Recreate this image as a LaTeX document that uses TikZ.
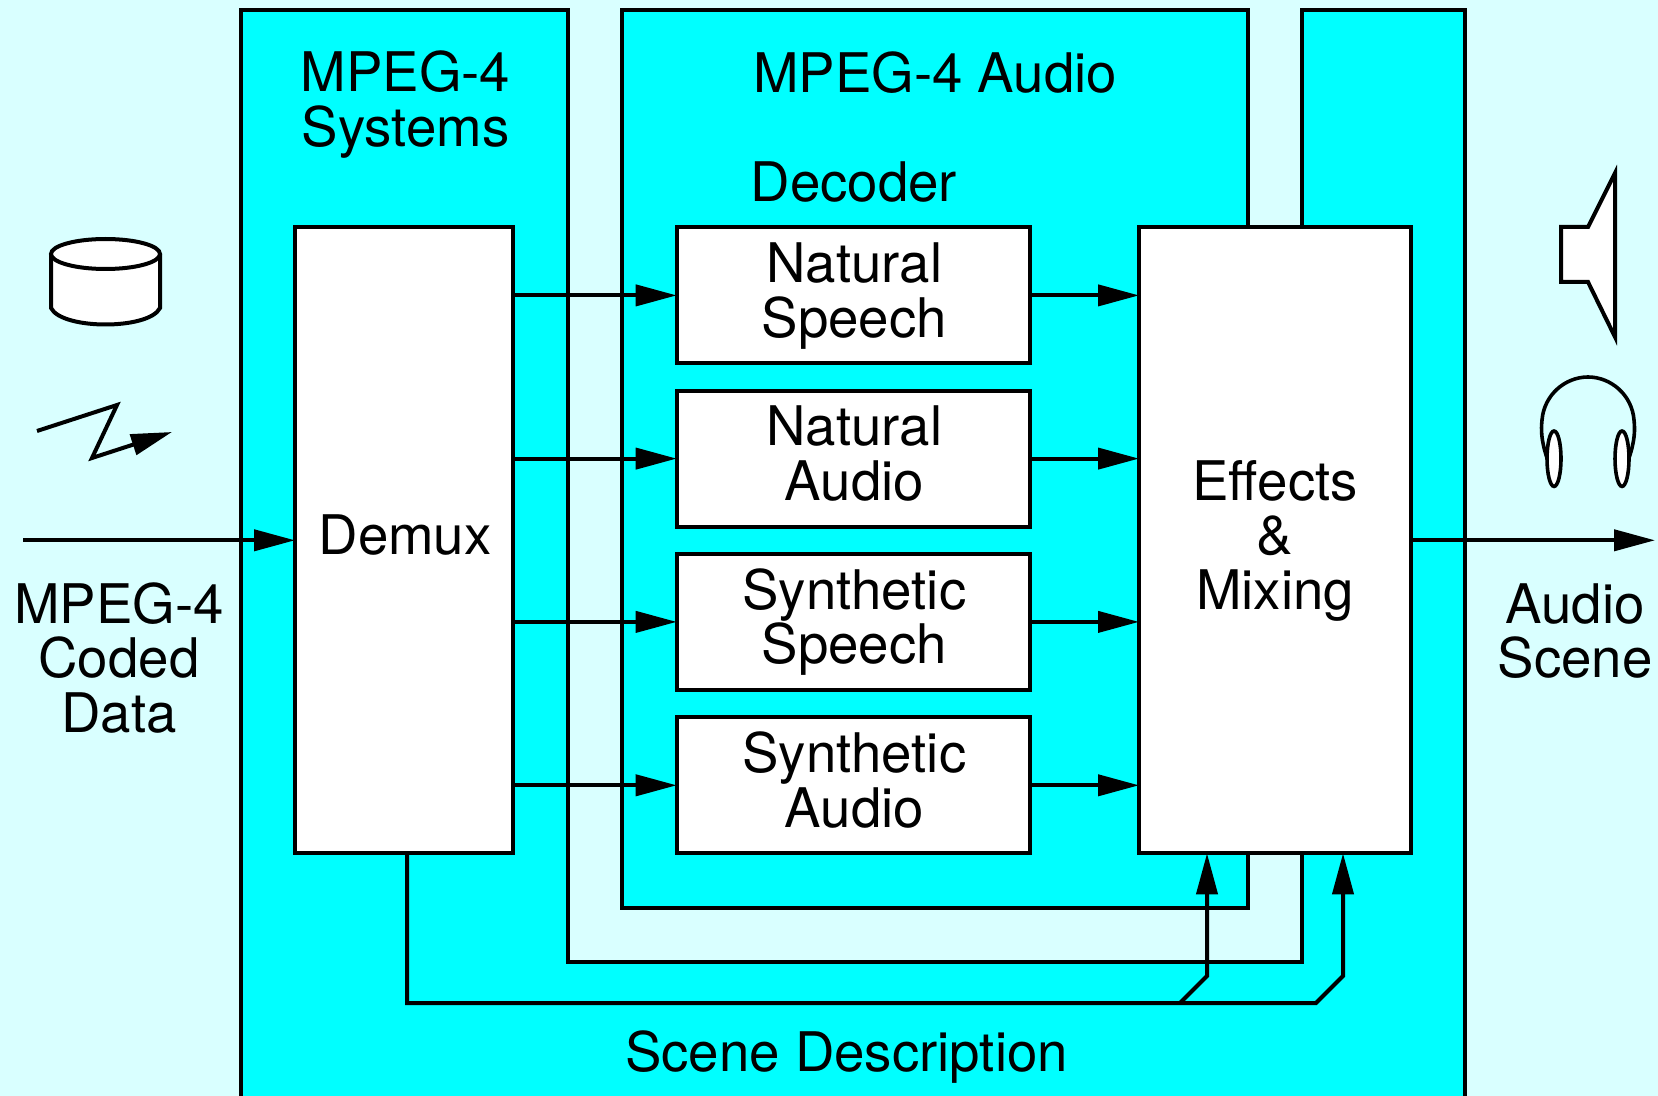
\documentclass[tikz,border=0pt]{standalone}
\usepackage{fontspec}
\setmainfont{TeX Gyre Heros}
\usetikzlibrary{arrows.meta}
\definecolor{paleC}{HTML}{D9FFFF}
\definecolor{fullC}{HTML}{00FFFF}
\newcommand\hh[1]{\rule{1pt}{0pt}\rule{0pt}{#1}}
\newcommand\dd[1]{\rule{1pt}{0pt}\rule[-#1]{0pt}{#1}}
\tikzset{
  every node/.style={font=\fontsize{27.3}{27.25}\selectfont, align=center, inner sep=0pt, outer sep=0pt},
  ln/.style={line width=2pt, draw=black, miter limit=10},
  arr/.style={ln, -{Triangle[length=20.5pt,width=10.5pt]}},
  box/.style={ln, fill=white, minimum width=176.7pt, minimum height=68.1pt},
  icon/.style={ln, fill=white},
  thinicon/.style={line width=1.8pt, draw=black},
}
\begin{document}
\begin{tikzpicture}[x=0.5pt,y=-0.5pt]
\useasboundingbox (0,0) rectangle (1658,1096);
\fill[paleC] (0,0) rectangle (1658,1096);
% Systems panel
\fill[fullC] (241,1096) -- (241,10) -- (568,10) -- (568,962) -- (1302,962) -- (1302,10) -- (1465,10) -- (1465,1096) -- cycle;
\draw[ln] (241,1096) -- (241,10) -- (568,10) -- (568,962) -- (1302,962) -- (1302,10) -- (1465,10) -- (1465,1096);
% Audio panel
\node[ln, fill=fullC, minimum width=313pt, minimum height=449pt] (audio) at (935,459) {};
% Boxes
\node[ln, fill=white, minimum width=109.15pt, minimum height=313pt] (demux) at (404.15,540.3) {\rule{1pt}{0pt}Demux\rule[-5.3pt]{0pt}{5.3pt}};
\node[ln, fill=white, minimum width=136pt, minimum height=313pt] (fx) at (1275,540.3) {\rule{0pt}{20.5pt}Effects\\\&\\Mixing};
\node[box] (ns) at (853.4,295.4) {\hh{22pt}Natural\\\rule{1pt}{0pt}Speech\rule[-7.5pt]{0pt}{7.5pt}};
\node[box] (na) at (853.4,458.6) {\hh{22pt}Natural\\\rule{1pt}{0pt}Audio\rule[-7.5pt]{0pt}{7.5pt}};
\node[box] (ss) at (853.4,621.9) {\hh{22pt}Synthetic\\\rule{1pt}{0pt}Speech\rule[-7.5pt]{0pt}{7.5pt}};
\node[box] (sa) at (853.4,785.3) {\hh{22pt}Synthetic\\\rule{1pt}{0pt}Audio\rule[-7.5pt]{0pt}{7.5pt}};
% Titles
\node (systitle) at (405.5,104.5) {MPEG-4\\Systems};
\node (audtitle) at (935,73) {MPEG-4 Audio};
\node (dectitle) at (854,182) {Decoder};
\node (scenetitle) at (846.5,1057) {Scene Description};
\node (inlabel) at (119,658) {MPEG-4\\Coded\\Data};
\node (outlabel) at (1575,631) {Audio\\Scene};
% Connectors
\coordinate (infree) at (23,540.3);
\coordinate (outfree) at (1655,540.3);
\draw[arr] (infree) -- (demux.west);
\draw[arr] (fx.east) -- (outfree);
\foreach \b in {ns,na,ss,sa}{
  \draw[arr] (demux.east |- \b.west) -- (\b.west);
  \draw[arr] (\b.east) -- (fx.west |- \b.east);
}
\coordinate (stem) at (407,853.3);
\coordinate (tipA) at (1207,853.3);
\coordinate (tipB) at (1343,853.3);
\draw[arr] (stem) -- (407,1003) -- (1316,1003) -- (1343,976) -- (tipB);
\draw[arr] (1180,1003) -- (1207,976) -- (tipA);
% Disk
\draw[icon] (51,254) -- (51,308) .. controls (62,330) and (149,330) .. (160,308) -- (160,254);
\draw[icon] (105.5,254) ellipse [x radius=54.5, y radius=15];
% Lightning
\draw[arr] (37,431) -- (117,405) -- (92,458) -- (172,432);
% Speaker
\draw[icon] (1561,227) -- (1588,227) -- (1615,173) -- (1615,337) -- (1588,282) -- (1561,282) -- cycle;
% Headphones
\draw[thinicon] (1547,458) .. controls (1541,440) and (1541,430) .. (1542,420) .. controls (1544,395) and (1565,377) .. (1588,377) .. controls (1611,377) and (1632,395) .. (1634,420) .. controls (1635,430) and (1635,440) .. (1629,458);
\draw[thinicon, fill=white] (1554,458.7) ellipse [x radius=7, y radius=27.7];
\draw[thinicon, fill=white] (1622,458.7) ellipse [x radius=7, y radius=27.7];
\end{tikzpicture}
\end{document}
